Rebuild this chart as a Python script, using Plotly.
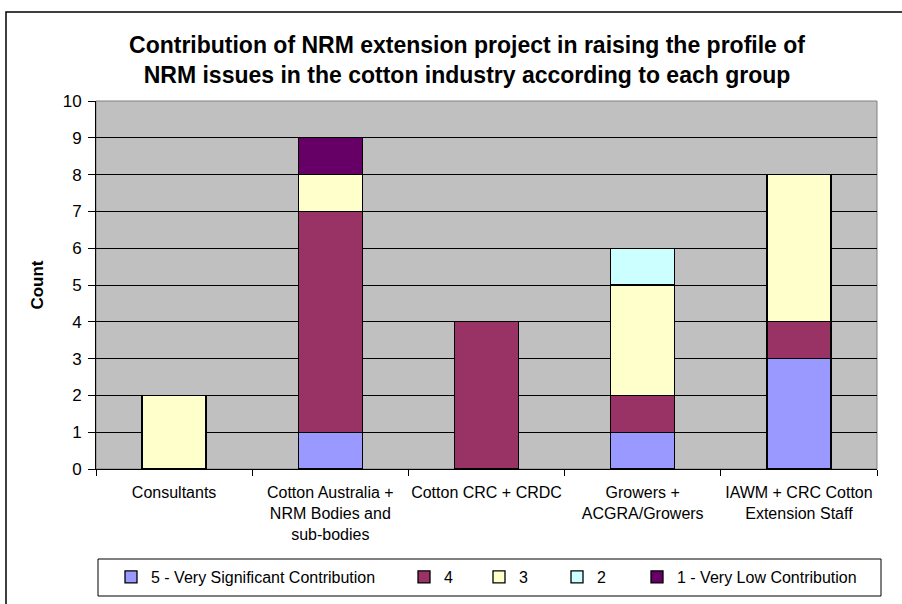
import plotly.graph_objects as go

categories = [
    "Consultants",
    "Cotton Australia +<br>NRM Bodies and<br>sub-bodies",
    "Cotton CRC + CRDC",
    "Growers +<br>ACGRA/Growers",
    "IAWM + CRC Cotton<br>Extension Staff",
]
series_names = [
    "5 - Very Significant Contribution",
    "4",
    "3",
    "2",
    "1 - Very Low Contribution",
]
v5 = [0, 1, 0, 1, 3]
v4 = [0, 6, 4, 1, 1]
v3 = [2, 1, 0, 3, 4]
v2 = [0, 0, 0, 1, 0]
v1 = [0, 1, 0, 0, 0]
colors = ["#9999FF", "#993366", "#FFFFCC", "#CCFFFF", "#660066"]

FONT = "Liberation Sans, Arial, sans-serif"
W, H = 902, 604
L, R, T, B = 96, 25, 101, 135
PW, PH = W - L - R, H - T - B


def px(x):
    return (x - L) / PW


def py(y):
    return (H - B - y) / PH


fig = go.Figure()
legend_ids = ["legend", "legend2", "legend3", "legend4", "legend5"]
for name, vals, col, lid in zip(series_names, [v5, v4, v3, v2, v1], colors, legend_ids):
    fig.add_trace(go.Bar(
        x=categories, y=vals, name=name, legend=lid,
        marker=dict(color=col, line=dict(color="black", width=1.3)),
    ))

legend_sym_x = [127, 420, 495, 573, 653]
layout_legends = {}
for lid, sx in zip(legend_ids, legend_sym_x):
    layout_legends[lid] = dict(
        x=px(sx - 16), xanchor="left", y=py(577), yanchor="middle",
        orientation="h", bgcolor="rgba(0,0,0,0)", borderwidth=0,
        font=dict(family=FONT, size=16, color="black"),
        itemclick=False, itemdoubleclick=False,
    )

fig.update_layout(
    width=W, height=H,
    margin=dict(l=L, r=R, t=T, b=B, autoexpand=False),
    barmode="stack", bargap=0.59,
    paper_bgcolor="white", plot_bgcolor="#C0C0C0",
    font=dict(family=FONT, size=16, color="black"),
    title=dict(
        text="Contribution of NRM extension project in raising the profile of<br>NRM issues in the cotton industry according to each group",
        font=dict(family=FONT, size=23, color="black", weight="bold"),
        xref="paper", x=px(467), xanchor="center",
        yref="container", y=1 - 53 / H, yanchor="middle",
    ),
    xaxis=dict(
        showgrid=False, showline=True, linecolor="black", linewidth=1,
        ticks="outside", tickson="boundaries", ticklen=6, tickcolor="black",
        tickangle=0, ticklabelstandoff=9,
        tickfont=dict(family=FONT, size=16, color="black"),
    ),
    yaxis=dict(
        range=[0, 10], dtick=1, showgrid=True, gridcolor="black", gridwidth=1,
        showline=True, linecolor="black", linewidth=1,
        ticks="outside", ticklen=7, tickcolor="black", ticklabelstandoff=3,
        tickfont=dict(family=FONT, size=17, color="black"),
        title=dict(text="Count", font=dict(family=FONT, size=17, color="black", weight="bold"), standoff=14),
        zeroline=False,
    ),
    showlegend=True,
    shapes=[
        # plot area border (gray)
        dict(type="rect", xref="paper", yref="paper", x0=0, x1=1, y0=0, y1=1,
             line=dict(color="#808080", width=1), layer="below"),
        # legend box
        dict(type="rect", xref="paper", yref="paper", x0=px(98), x1=px(881), y0=py(596), y1=py(559),
             line=dict(color="black", width=1)),
        # chart border
        dict(type="rect", xref="paper", yref="paper", x0=px(6), x1=px(912), y0=py(612), y1=py(12),
             line=dict(color="black", width=1.5)),
    ],
    **layout_legends,
)

fig.write_html(
    "out.html",
    config={"displayModeBar": False},
    post_script="document.body.style.margin='0';document.body.style.overflow='hidden';",
)
